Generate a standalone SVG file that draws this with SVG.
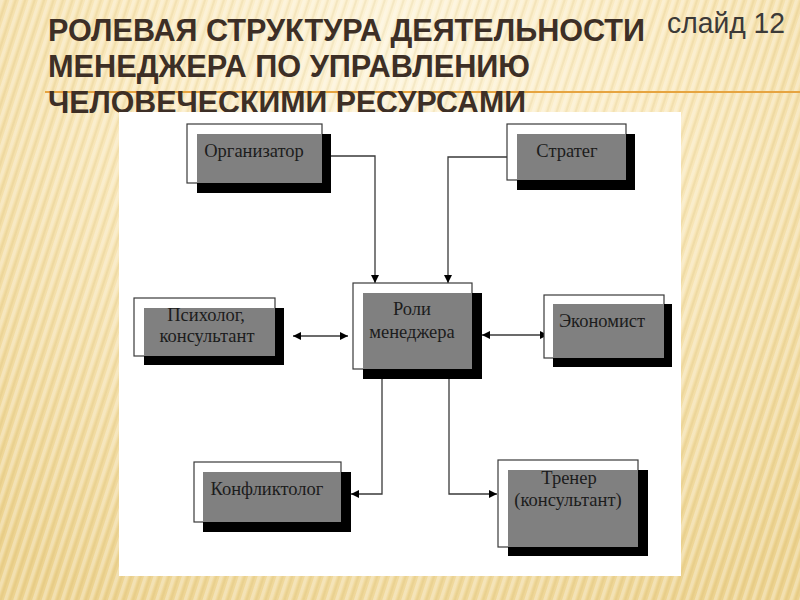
<svg xmlns="http://www.w3.org/2000/svg" width="800" height="600" viewBox="0 0 800 600">
  <defs>
    <radialGradient id="bg" cx="400" cy="60" r="620" gradientUnits="userSpaceOnUse">
      <stop offset="0" stop-color="#FDF4DA"/>
      <stop offset="0.45" stop-color="#F9E8BC"/>
      <stop offset="1" stop-color="#ECD28E"/>
    </radialGradient>
    <pattern id="streaks" width="9" height="40" patternUnits="userSpaceOnUse" patternTransform="rotate(18)">
      <rect x="0" y="0" width="3.5" height="40" fill="#FFFFFF" opacity="0.3"/>
      <rect x="5" y="0" width="2" height="40" fill="#C9A85A" opacity="0.14"/>
    </pattern>
    <marker id="ah" viewBox="0 0 10 10" refX="10" refY="5" markerWidth="9" markerHeight="8" markerUnits="userSpaceOnUse" orient="auto-start-reverse">
      <path d="M0,0 L10,5 L0,10 Z" fill="#000"/>
    </marker>
    <style>
      .frame { fill: #FFFFFF; stroke: #3a3a3a; stroke-width: 1.2; }
      .shadow { fill: #000000; }
      .face { fill: #808080; }
      .lbl { font-family: "Liberation Serif", "Times New Roman", serif; font-size: 18.5px; fill: #1c1c1c; text-anchor: middle; }
      .title { font-family: "Liberation Sans", Arial, sans-serif; font-weight: bold; font-size: 31px; fill: #3d2f26; }
      .conn { fill: none; stroke: #3a3a3a; stroke-width: 1.3; }
    </style>
  </defs>

  <rect x="0" y="0" width="800" height="600" fill="url(#bg)"/>
  <rect x="0" y="0" width="800" height="600" fill="url(#streaks)"/>

  <line x1="45" y1="92" x2="800" y2="92" stroke="#E6A440" stroke-width="2"/>

  <g id="title">
    <text class="title" x="48" y="41" textLength="597" lengthAdjust="spacingAndGlyphs">РОЛЕВАЯ СТРУКТУРА ДЕЯТЕЛЬНОСТИ</text>
    <text class="title" x="48" y="77" textLength="482" lengthAdjust="spacingAndGlyphs">МЕНЕДЖЕРА ПО УПРАВЛЕНИЮ</text>
    <text class="title" x="48" y="113" textLength="478" lengthAdjust="spacingAndGlyphs">ЧЕЛОВЕЧЕСКИМИ РЕСУРСАМИ</text>
  </g>
  <text x="667" y="33" textLength="118" lengthAdjust="spacingAndGlyphs" font-family="'Liberation Sans', Arial, sans-serif" font-size="30" fill="#3c3a38">слайд 12</text>

  <rect x="119" y="112" width="562" height="464" fill="#FFFFFF"/>

  <g id="connectors">
    <path class="conn" d="M331,156 H375 V283" marker-end="url(#ah)"/>
    <path class="conn" d="M507,157 H448 V283" marker-end="url(#ah)"/>
    <path class="conn" d="M293,336 H348" marker-start="url(#ah)" marker-end="url(#ah)"/>
    <path class="conn" d="M482,335 H548" marker-start="url(#ah)" marker-end="url(#ah)"/>
    <path class="conn" d="M382,379 V494 H351" marker-end="url(#ah)"/>
    <path class="conn" d="M449,379 V494 H497" marker-end="url(#ah)"/>
  </g>

  <g id="node-organizer">
    <rect class="frame" x="187" y="124" width="135" height="59"/>
    <rect class="shadow" x="197" y="134" width="134" height="59"/>
    <rect class="face" x="197" y="134" width="125" height="49"/>
    <text class="lbl" x="254" y="157">Организатор</text>
  </g>

  <g id="node-strateg">
    <rect class="frame" x="507" y="124" width="119" height="56"/>
    <rect class="shadow" x="517" y="134" width="118" height="56"/>
    <rect class="face" x="517" y="134" width="109" height="46"/>
    <text class="lbl" x="567" y="157">Стратег</text>
  </g>

  <g id="node-roles">
    <rect class="frame" x="353" y="283" width="119" height="86"/>
    <rect class="shadow" x="363" y="293" width="119" height="86"/>
    <rect class="face" x="363" y="293" width="109" height="76"/>
    <text class="lbl" x="412" y="315">Роли</text>
    <text class="lbl" x="412" y="338">менеджера</text>
  </g>

  <g id="node-psychologist">
    <rect class="frame" x="134" y="298" width="141" height="58"/>
    <rect class="shadow" x="144" y="308" width="140" height="57"/>
    <rect class="face" x="144" y="308" width="131" height="48"/>
    <text class="lbl" x="206" y="321">Психолог,</text>
    <text class="lbl" x="207" y="342">консультант</text>
  </g>

  <g id="node-economist">
    <rect class="frame" x="544" y="295" width="120" height="63"/>
    <rect class="shadow" x="553" y="304" width="119" height="63"/>
    <rect class="face" x="553" y="304" width="111" height="54"/>
    <text class="lbl" x="602" y="327">Экономист</text>
  </g>

  <g id="node-conflictologist">
    <rect class="frame" x="194" y="462" width="147" height="60"/>
    <rect class="shadow" x="203" y="472" width="148" height="60"/>
    <rect class="face" x="203" y="472" width="138" height="50"/>
    <text class="lbl" x="267" y="495">Конфликтолог</text>
  </g>

  <g id="node-trainer">
    <rect class="frame" x="498" y="460" width="140" height="87"/>
    <rect class="shadow" x="508" y="470" width="140" height="86"/>
    <rect class="face" x="508" y="470" width="130" height="77"/>
    <text class="lbl" x="569" y="484">Тренер</text>
    <text class="lbl" x="568" y="506">(консультант)</text>
  </g>
</svg>
